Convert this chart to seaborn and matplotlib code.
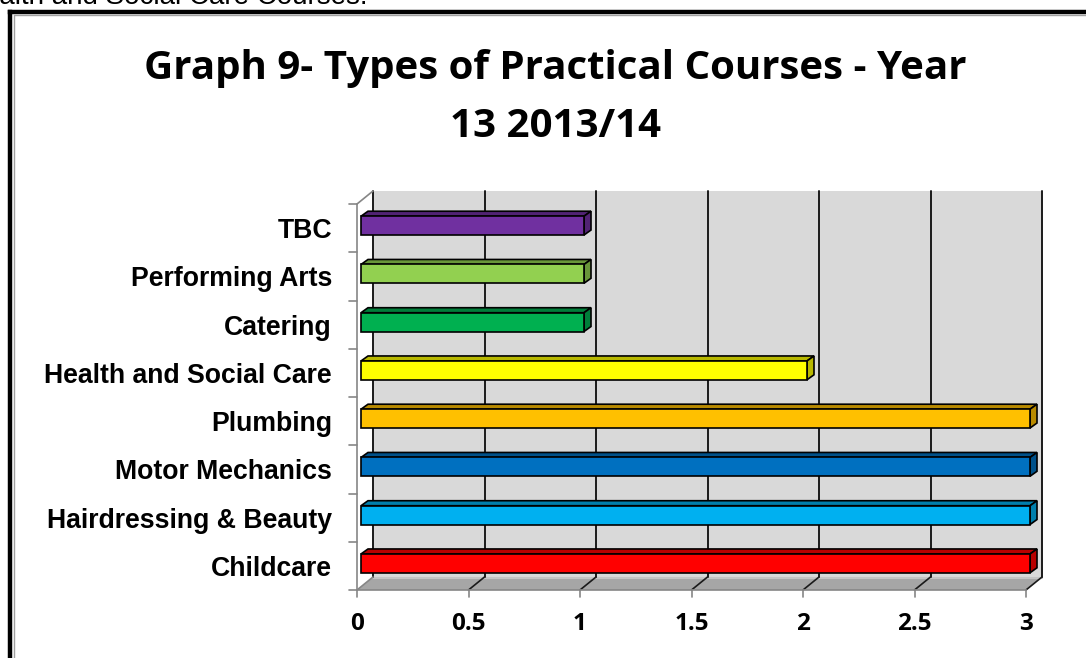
import matplotlib
matplotlib.use("Agg")
import matplotlib.pyplot as plt
import seaborn as sns
import pandas as pd
import numpy as np
from matplotlib.patches import Polygon, Rectangle
from matplotlib.lines import Line2D
from matplotlib.transforms import ScaledTranslation, blended_transform_factory
import matplotlib.colors as mcolors

# ---------------- data ----------------
courses = ["TBC", "Performing Arts", "Catering", "Health and Social Care",
           "Plumbing", "Motor Mechanics", "Hairdressing & Beauty", "Childcare"]
counts = [1, 1, 1, 2, 3, 3, 3, 3]
bar_colors = ["#7030A0", "#92D050", "#00B050", "#FFFF00",
              "#FFC000", "#0070C0", "#00B0F0", "#FF0000"]
x_ticks = [0, 0.5, 1, 1.5, 2, 2.5, 3]
x_tick_labels = ["0", "0.5", "1", "1.5", "2", "2.5", "3"]
title_lines = ["Graph 9- Types of Practical Courses - Year", "13 2013/14"]
caption_text = "Health and Social Care Courses."

df = pd.DataFrame({"course": courses, "count": counts})

sns.set_theme(style="white")
plt.rcParams["font.family"] = ["Liberation Sans", "DejaVu Sans"]
plt.rcParams["text.color"] = "black"
plt.rcParams["xtick.color"] = "black"
plt.rcParams["ytick.color"] = "black"

W, H, DPI = 1086, 658, 100
fig = plt.figure(figsize=(W / DPI, H / DPI), dpi=DPI)
fig.patch.set_facecolor("white")

# front plane of the 3D box in pixels
L, R, T, B = 357, 1026, 204, 590
ax = fig.add_axes([L / W, 1 - B / H, (R - L) / W, (B - T) / H])
ax.patch.set_visible(False)
for s in ax.spines.values():
    s.set_visible(False)

ax.set_xlim(0, 3)
ax.set_ylim(len(courses) - 0.5, -0.5)

px_x = 3 / (R - L)             # data units per pixel (x)
px_y = len(courses) / (B - T)  # data units per pixel (y)

# depth offsets (pixels)
WALL_DX, WALL_DY = 16, 13
back = ax.transAxes + ScaledTranslation(WALL_DX / DPI, WALL_DY / DPI, fig.dpi_scale_trans)

# back wall
ax.add_patch(Rectangle((0, 0), 1, 1, transform=back, facecolor="#D9D9D9",
                       edgecolor="none", zorder=0, clip_on=False))
# floor
fx, fy = WALL_DX / (R - L), WALL_DY / (B - T)
floor = Polygon([[0, 0], [1, 0], [1 + fx, fy], [fx, fy]], closed=True,
                transform=ax.transAxes, facecolor="#A6A6A6", edgecolor="none",
                zorder=0.5, clip_on=False)
ax.add_patch(floor)
ax.add_line(Line2D([fx, 1 + fx], [fy - 0.003, fy - 0.003],
                   transform=ax.transAxes, color="#C4C4C4", lw=1.5, zorder=0.6,
                   clip_on=False))

# gridlines on back wall and their floor diagonals
bl = blended_transform_factory(ax.transData, ax.transAxes)
bl_back = bl + ScaledTranslation(WALL_DX / DPI, WALL_DY / DPI, fig.dpi_scale_trans)
for xv in x_ticks:
    ax.add_line(Line2D([xv, xv], [0, 1], transform=bl_back, color="#1a1a1a",
                       lw=1.4, zorder=1, clip_on=False))
    col = "#868686" if xv == 0 else "#1a1a1a"
    ax.add_line(Line2D([xv, xv + WALL_DX * px_x], [0, fy],
                       transform=bl, color=col, lw=1.2, zorder=1, clip_on=False))
    ax.add_line(Line2D([xv, xv], [0, -7 / (B - T)], transform=bl,
                       color="#868686", lw=1.2, zorder=1, clip_on=False))
# front floor edge and left wall
ax.add_line(Line2D([0, 1], [0, 0], transform=ax.transAxes, color="#868686", lw=1.2,
                   zorder=1.2, clip_on=False))
ax.add_line(Line2D([0, 0], [0, 1], transform=ax.transAxes, color="#868686", lw=1.2,
                   zorder=1.2, clip_on=False))
ax.add_line(Line2D([0, fx], [1, 1 + fy], transform=ax.transAxes, color="#868686",
                   lw=1.2, zorder=1.2, clip_on=False))
for b in np.arange(-0.5, len(courses), 1.0):
    ax.add_line(Line2D([0, -8 * px_x], [b, b], color="#868686", lw=1.2,
                       zorder=1.2, clip_on=False))

# ---------------- bars ----------------
sns.barplot(data=df, x="count", y="course", hue="course", palette=bar_colors,
            order=courses, hue_order=courses, orient="h", width=0.39,
            saturation=1, legend=False, ax=ax, edgecolor="black", linewidth=1.2,
            zorder=3)

BAR_SHIFT_X, BAR_SHIFT_Y = 4, 2.5   # front face shift (pixels, right / up)
DEPTH_X, DEPTH_Y = 7, 5             # bar depth (pixels)
bars = [r for cont in ax.containers for r in cont if r.get_width() > 0]
for p in bars:
    c = p.get_facecolor()
    p.set_clip_on(False)
    x0 = p.get_x() + BAR_SHIFT_X * px_x
    w = p.get_width()
    y0 = p.get_y() - BAR_SHIFT_Y * px_y
    h = p.get_height()
    p.set_x(x0)
    p.set_y(y0)
    dark = tuple(np.array(mcolors.to_rgb(c)) * 0.72)
    dx, dy = DEPTH_X * px_x, -DEPTH_Y * px_y
    top = Polygon([[x0, y0], [x0 + w, y0], [x0 + w + dx, y0 + dy], [x0 + dx, y0 + dy]],
                  closed=True, facecolor=dark, edgecolor="black", lw=1.2, zorder=2.9,
                  clip_on=False)
    side = Polygon([[x0 + w, y0], [x0 + w + dx, y0 + dy], [x0 + w + dx, y0 + h + dy],
                    [x0 + w, y0 + h]], closed=True, facecolor=dark, edgecolor="black",
                   lw=1.2, zorder=2.9, clip_on=False)
    ax.add_patch(top)
    ax.add_patch(side)

# ---------------- ticks / labels ----------------
ax.set_xlim(0, 3)
ax.set_ylim(len(courses) - 0.5, -0.5)
ax.set_xlabel("")
ax.set_ylabel("")
ax.set_xticks(x_ticks)
ax.set_xticklabels(x_tick_labels, fontfamily="Open Sans", fontweight="bold",
                   fontsize=17.5, color="black")
ax.tick_params(axis="x", length=0, pad=16)
ax.set_yticks(range(len(courses)))
ax.set_yticklabels(courses, fontfamily="Liberation Sans", fontweight="bold",
                   fontsize=19.2, color="black")
ax.tick_params(axis="y", length=0, pad=18)

# title (two lines, baselines as in the reference)
for line, base in zip(title_lines, [79, 137]):
    fig.text(555 / W, 1 - base / H, line, ha="center", va="baseline", color="black",
             fontfamily="Open Sans", fontweight="bold", fontsize=29)

# caption text cut off at top of page (as in the source screenshot)
fig.text(367 / W, 1 - 4 / H, caption_text, ha="right", va="baseline", color="black",
         fontfamily="Liberation Sans", fontsize=20)

# outer chart border (extends beyond right / bottom edges)
fig.add_artist(Line2D([10 / W, 10 / W], [0, 1 - 11.5 / H], transform=fig.transFigure,
                      color="black", lw=3.2, solid_capstyle="projecting"))
fig.add_artist(Line2D([10 / W, 1], [1 - 11.5 / H, 1 - 11.5 / H], transform=fig.transFigure,
                      color="black", lw=3.2, solid_capstyle="projecting"))
fig.add_artist(Line2D([13.5 / W, 13.5 / W], [0, 1 - 14.5 / H], transform=fig.transFigure,
                      color="#A0A0A0", lw=1.0))
fig.add_artist(Line2D([13.5 / W, 1], [1 - 14.5 / H, 1 - 14.5 / H], transform=fig.transFigure,
                      color="#A0A0A0", lw=1.0))

fig.savefig("out.png", dpi=DPI)
